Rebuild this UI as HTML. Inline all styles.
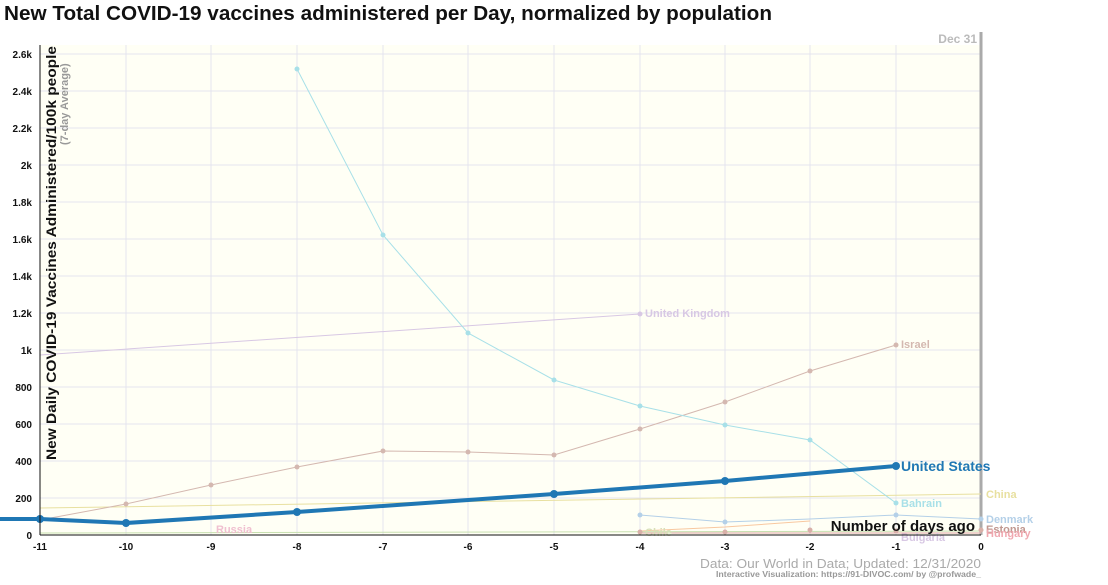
<!DOCTYPE html>
<html><head><meta charset="utf-8"><style>
body{margin:0;background:#fff;width:1108px;height:580px;overflow:hidden;font-family:"Liberation Sans",sans-serif}
</style></head><body>
<svg width="1108" height="580" viewBox="0 0 1108 580" xmlns="http://www.w3.org/2000/svg" font-family="Liberation Sans, sans-serif">
<text x="4" y="20" font-size="20" font-weight="bold" fill="#111" textLength="768" lengthAdjust="spacingAndGlyphs">New Total COVID-19 vaccines administered per Day, normalized by population</text>
<rect x="40" y="45" width="941" height="490" fill="#fffff5"/>
<g stroke="#e4e4ee" stroke-width="1">
<line x1="40" x2="981" y1="54" y2="54"/><line x1="40" x2="981" y1="91" y2="91"/><line x1="40" x2="981" y1="128" y2="128"/><line x1="40" x2="981" y1="165" y2="165"/><line x1="40" x2="981" y1="202" y2="202"/><line x1="40" x2="981" y1="239" y2="239"/><line x1="40" x2="981" y1="276" y2="276"/><line x1="40" x2="981" y1="313" y2="313"/><line x1="40" x2="981" y1="350" y2="350"/><line x1="40" x2="981" y1="387" y2="387"/><line x1="40" x2="981" y1="424" y2="424"/><line x1="40" x2="981" y1="461" y2="461"/><line x1="40" x2="981" y1="498" y2="498"/>
<line y1="45" y2="535" x1="126" x2="126"/><line y1="45" y2="535" x1="211" x2="211"/><line y1="45" y2="535" x1="297" x2="297"/><line y1="45" y2="535" x1="383" x2="383"/><line y1="45" y2="535" x1="468" x2="468"/><line y1="45" y2="535" x1="554" x2="554"/><line y1="45" y2="535" x1="640" x2="640"/><line y1="45" y2="535" x1="725" x2="725"/><line y1="45" y2="535" x1="810" x2="810"/><line y1="45" y2="535" x1="896" x2="896"/>
</g>
<line x1="981" x2="981" y1="32" y2="535" stroke="#aaa" stroke-width="3"/>
<text x="977" y="43" font-size="12" font-weight="bold" fill="#bbb" text-anchor="end">Dec 31</text>
<polyline points="40,508 981,494" fill="none" stroke="#e8e0a0" stroke-width="1"/>
<text x="986" y="498" font-size="11" font-weight="bold" fill="#e8e0a0">China</text>
<polyline points="40,355 640,314" fill="none" stroke="#d8c8e4" stroke-width="1"/>
<circle cx="640" cy="314" r="2.5" fill="#d8c8e4"/><text x="645" y="317" font-size="11" font-weight="bold" fill="#d8c8e4">United Kingdom</text>
<polyline points="40,520 126,504 211,485 297,467 383,451 468,452 554,455 640,429 725,402 810,371 896,345" fill="none" stroke="#d4b8b0" stroke-width="1"/>
<g fill="#d4b8b0"><circle cx="126" cy="504" r="2.5"/><circle cx="211" cy="485" r="2.5"/><circle cx="297" cy="467" r="2.5"/><circle cx="383" cy="451" r="2.5"/><circle cx="468" cy="452" r="2.5"/><circle cx="554" cy="455" r="2.5"/><circle cx="640" cy="429" r="2.5"/><circle cx="725" cy="402" r="2.5"/><circle cx="810" cy="371" r="2.5"/><circle cx="896" cy="345" r="2.5"/></g>
<text x="901" y="348" font-size="11" font-weight="bold" fill="#d4b8b0">Israel</text>
<polyline points="297,69 383,235 468,333 554,380 640,406 725,425 810,440 896,503" fill="none" stroke="#a8e0e8" stroke-width="1"/>
<g fill="#a8e0e8"><circle cx="297" cy="69" r="2.5"/><circle cx="383" cy="235" r="2.5"/><circle cx="468" cy="333" r="2.5"/><circle cx="554" cy="380" r="2.5"/><circle cx="640" cy="406" r="2.5"/><circle cx="725" cy="425" r="2.5"/><circle cx="810" cy="440" r="2.5"/><circle cx="896" cy="503" r="2.5"/></g>
<text x="901" y="507" font-size="11" font-weight="bold" fill="#a8e0e8">Bahrain</text>
<polyline points="640,515 725,522 810,519 896,515 981,519" fill="none" stroke="#b4d0e8" stroke-width="1"/>
<g fill="#b4d0e8"><circle cx="640" cy="515" r="2.5"/><circle cx="725" cy="522" r="2.5"/><circle cx="896" cy="515" r="2.5"/><circle cx="981" cy="519" r="2.5"/></g>
<text x="986" y="523" font-size="11" font-weight="bold" fill="#b4d0e8">Denmark</text>
<polyline points="640,531 725,527 810,521" fill="none" stroke="#f8c8a0" stroke-width="1"/>
<polyline points="40,533 981,531" fill="none" stroke="#c8e0b0" stroke-width="1"/>
<polyline points="640,533 981,533" fill="none" stroke="#e0a8a8" stroke-width="1"/>
<g fill="#d8b0a8"><circle cx="640" cy="532" r="2.5"/><circle cx="725" cy="532" r="2.5"/><circle cx="810" cy="530" r="2.5"/><circle cx="896" cy="531" r="2.5"/><circle cx="981" cy="530" r="2.5"/></g>
<text x="216" y="533" font-size="11" font-weight="bold" fill="#f0c0d0">Russia</text>
<text x="645" y="536" font-size="11" font-weight="bold" fill="#d8e0b8">Chile</text>
<text x="901" y="541" font-size="11" font-weight="bold" fill="#d8c8e4">Bulgaria</text>
<text x="986" y="533" font-size="11" font-weight="bold" fill="#c09890">Estonia</text>
<text x="986" y="537" font-size="11" font-weight="bold" fill="#f0a8b0">Hungary</text>
<polyline points="0,519 40,519 126,523 297,512 554,494 725,481 896,466" fill="none" stroke="#1f77b4" stroke-width="4"/>
<g fill="#1f77b4"><circle cx="40" cy="519" r="4"/><circle cx="126" cy="523" r="4"/><circle cx="297" cy="512" r="4"/><circle cx="554" cy="494" r="4"/><circle cx="725" cy="481" r="4"/><circle cx="896" cy="466" r="4"/></g>
<text x="901" y="471" font-size="14" font-weight="bold" fill="#1f77b4">United States</text>
<text x="975" y="531" font-size="15" font-weight="bold" fill="#111" text-anchor="end">Number of days ago</text>
<line x1="40" x2="40" y1="45" y2="535" stroke="#111"/>
<line x1="40" x2="981" y1="535" y2="535" stroke="#111"/>
<g font-size="10" fill="#111" text-anchor="end" font-weight="bold">
<text x="32" y="58">2.6k</text><text x="32" y="95">2.4k</text><text x="32" y="132">2.2k</text><text x="32" y="169">2k</text><text x="32" y="206">1.8k</text><text x="32" y="243">1.6k</text><text x="32" y="280">1.4k</text><text x="32" y="317">1.2k</text><text x="32" y="354">1k</text><text x="32" y="391">800</text><text x="32" y="428">600</text><text x="32" y="465">400</text><text x="32" y="502">200</text><text x="32" y="539">0</text>
</g>
<g font-size="10" fill="#111" text-anchor="middle" font-weight="bold">
<text x="40" y="550">-11</text><text x="126" y="550">-10</text><text x="211" y="550">-9</text><text x="297" y="550">-8</text><text x="383" y="550">-7</text><text x="468" y="550">-6</text><text x="554" y="550">-5</text><text x="640" y="550">-4</text><text x="725" y="550">-3</text><text x="810" y="550">-2</text><text x="896" y="550">-1</text><text x="981" y="550">0</text>
</g>
<text transform="translate(56,460) rotate(-90)" font-size="14" font-weight="bold" fill="#111" textLength="414" lengthAdjust="spacingAndGlyphs">New Daily COVID-19 Vaccines Administered/100k people</text>
<text transform="translate(68,145) rotate(-90)" font-size="11" font-weight="bold" fill="#999">(7-day Average)</text>
<text x="981" y="568" font-size="13" fill="#aaa" text-anchor="end" textLength="281" lengthAdjust="spacingAndGlyphs">Data: Our World in Data; Updated: 12/31/2020</text>
<text x="981" y="577" font-size="8" font-weight="bold" fill="#999" text-anchor="end" textLength="265" lengthAdjust="spacingAndGlyphs">Interactive Visualization: https://91-DIVOC.com/ by @profwade_</text>
</svg>
</body></html>
